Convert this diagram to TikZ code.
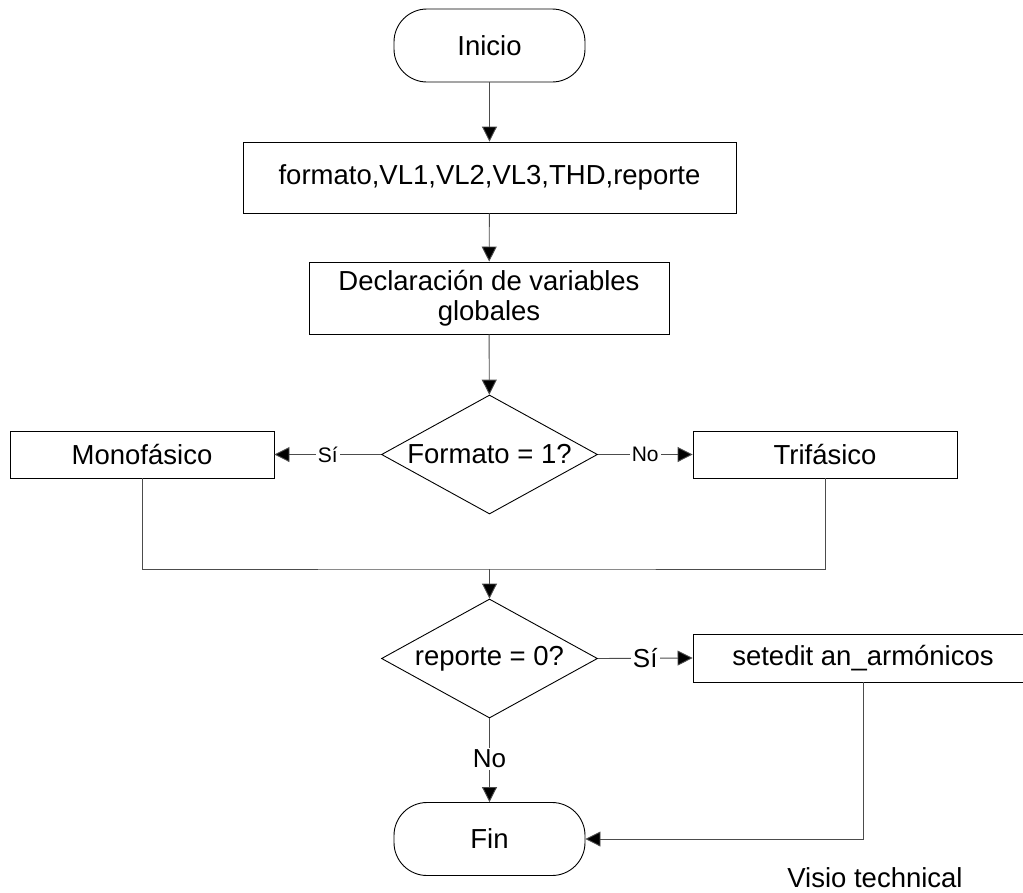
\documentclass[tikz,border=0pt]{standalone}
\usepackage{fontspec}
\setmainfont{Liberation Sans}
\usetikzlibrary{shapes.geometric,arrows.meta}
\begin{document}
\begin{tikzpicture}[x=1pt,y=-1pt,
  txt/.style={font=\fontsize{27.5}{30}\selectfont},
  lbl/.style={font=\fontsize{21}{24}\selectfont,fill=white,inner sep=2pt},
  lblbig/.style={font=\fontsize{26}{28}\selectfont,fill=white,inner sep=2pt},
  term/.style={txt,draw=black,line width=0.9pt,rounded corners=33pt,minimum width=191pt,minimum height=73pt},
  proc/.style={txt,draw=black,line width=0.9pt,rectangle,align=center,inner sep=0pt},
  dec/.style={txt,draw=black,line width=0.9pt,diamond,aspect=1.8,inner sep=0pt,minimum width=216pt,minimum height=119pt},
  flow/.style={draw=black!70,line width=0.9pt},
  arr/.style={flow,-{Triangle[length=15pt,width=15pt,fill=black]}}
]
\useasboundingbox (0,0) rectangle (1023,892);

% terminals, steps and decisions
\node[term] (inicio) at (489.5,45.5) {Inicio};
\node[proc,minimum width=493pt,minimum height=71pt] (datos) at (489.5,177.5) {formato,VL1,VL2,VL3,THD,reporte};
\node[proc,minimum width=360pt,minimum height=72pt] (decl) at (489,298) {Declaración de variables\\globales};
\node[dec] (formato) at (489.5,454.5) {Formato = 1?};
\node[proc,minimum width=264pt,minimum height=47pt] (mono) at (142,454.5) {Monofásico};
\node[proc,minimum width=264pt,minimum height=47pt] (tri) at (825,454.5) {Trifásico};
\coordinate (join) at (489.5,569);
\node[dec] (reporte) at (489.5,658.5) {reporte = 0?};
\node[proc,minimum width=340pt,minimum height=48pt] (setedit) at (863,658) {setedit an\_armónicos};
\node[term] (fin) at (489.5,839) {Fin};
\node[txt] (visio) at (875,878) {Visio technical};

% connectors
\draw[arr] (inicio) -- (datos);
\draw[arr] (datos) -- (decl);
\draw[arr] (decl) -- (formato);
\draw[arr] (formato.west) -- node[lbl] {Sí} (mono.east);
\draw[arr] (formato.east) -- node[lbl] {No} (tri.west);
\draw[flow] (mono.south) |- (join) -| (tri.south);
\draw[arr] (join) -- (reporte.north);
\draw[arr] (reporte.east) -- node[lblbig] {Sí} (setedit.west);
\draw[arr] (reporte.south) -- node[lblbig,pos=0.48] {No} (fin.north);
\draw[arr] (setedit.south) |- (fin.east);
\end{tikzpicture}
\end{document}
